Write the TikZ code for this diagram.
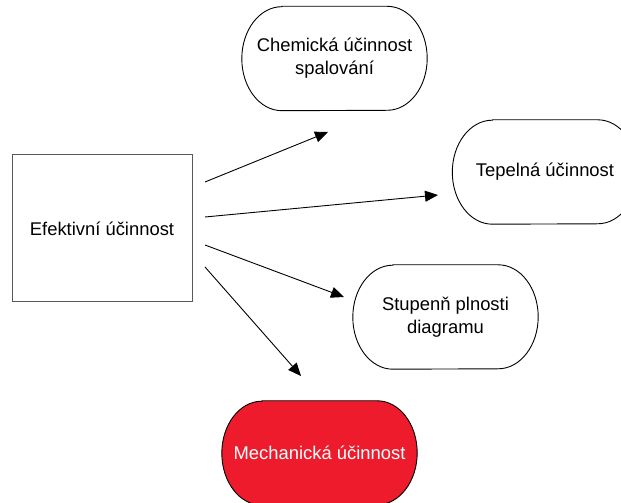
\documentclass[tikz,border=0pt]{standalone}
\usepackage{fontspec}
\setmainfont{Liberation Sans}
\usetikzlibrary{arrows.meta,backgrounds}
\definecolor{mechred}{RGB}{237,27,43}
% outline with elliptic ends round a named node
\newcommand{\stadium}[2][]{%
  \draw[line width=0.9pt,#1] ([xshift=40pt]#2.north west) -- ([xshift=-40pt]#2.north east)
    arc[start angle=90, end angle=-90, x radius=40pt, y radius=52pt]
    -- ([xshift=40pt]#2.south west)
    arc[start angle=270, end angle=90, x radius=40pt, y radius=52pt] -- cycle;}
\begin{document}
\begin{tikzpicture}[
            x=1pt, y=1pt,
            every node/.style={font=\fontsize{18.4}{23}\selectfont, align=center},
            oval/.style={minimum width=185pt, minimum height=104pt, inner sep=0pt},
            box/.style={draw=gray!70!black, line width=1pt, minimum width=180pt, minimum height=147pt},
            link/.style={-{Triangle[length=13pt,width=11pt]}, line width=0.9pt}
        ]
        \useasboundingbox (0,0) rectangle (621,503);

        \node[box] (eff) at (102,274.5) {Efektivní účinnost};
        \node[oval] (chem) at (334.5,444.5) {Chemická účinnost\\spalování};
        \node[oval] (tep) at (545,331) {Tepelná účinnost};
        \node[oval] (stup) at (445.5,186) {Stupenň plnosti\\diagramu};
        \node[oval, minimum width=195pt, text=white] (mech) at (319.5,50) {Mechanická účinnost};

        \begin{scope}[on background layer]
            \stadium{chem}
            \stadium{tep}
            \stadium{stup}
            \stadium[fill=mechred]{mech}
        \end{scope}

        % arrow ends
        \coordinate (a1) at (205,321);
        \coordinate (b1) at (328,371);
        \coordinate (a2) at (205,286);
        \coordinate (b2) at (438,308);
        \coordinate (a3) at (205,258);
        \coordinate (b3) at (344,206);
        \coordinate (a4) at (205,236);
        \coordinate (b4) at (301,127);

        \draw[link] (a1) -- (b1);
        \draw[link] (a2) -- (b2);
        \draw[link] (a3) -- (b3);
        \draw[link] (a4) -- (b4);
    \end{tikzpicture}
\end{document}
